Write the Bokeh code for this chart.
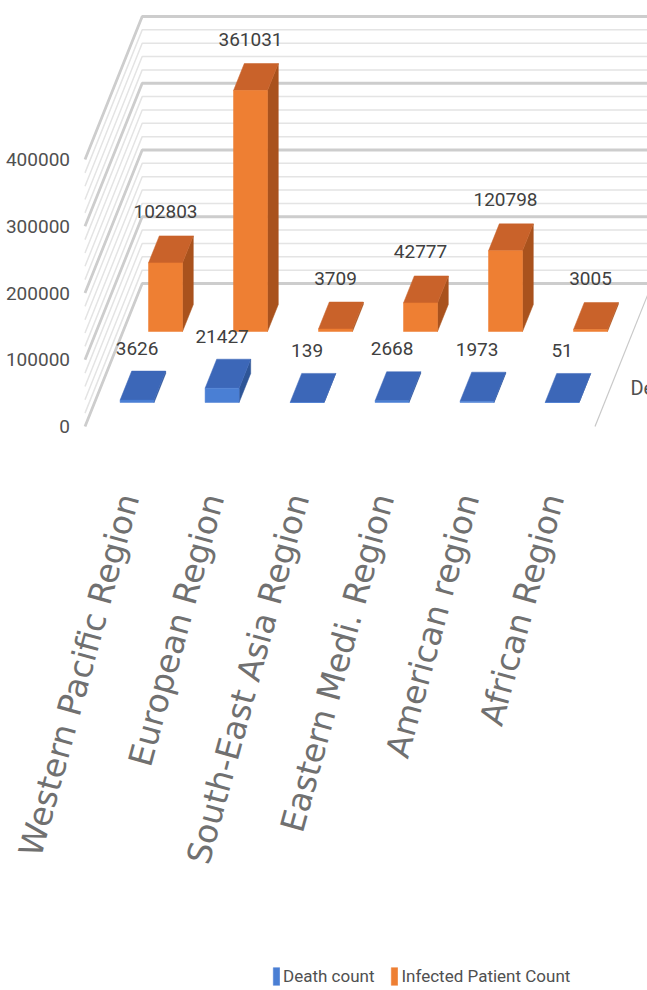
import math
from bokeh.plotting import figure
from bokeh.models import Range1d, Legend, LegendItem, ColumnDataSource
from bokeh.core.properties import value
from bokeh.embed import file_html
from bokeh.resources import INLINE

# ---------------- data ----------------
regions = ["Western Pacific Region", "European Region", "South-East Asia Region",
           "Eastern Medi. Region", "American region", "African Region"]
death_count = [3626, 21427, 139, 2668, 1973, 51]
infected_count = [102803, 361031, 3709, 42777, 120798, 3005]
series_names = ["Death count", "Infected Patient Count"]
y_ticks = [0, 100000, 200000, 300000, 400000]
y_tick_labels = ["0", "100000", "200000", "300000", "400000"]
minor_step = 20000
value_max = 400000

# ---------------- geometry / style ----------------
W, H = 647, 990
CAT_PX = 85.0          # pixels per category
X0_PX = 127.0          # pixel x of first category (front edge)
Y0_PX = 426.0          # pixel y of value 0 at the front of the floor
K = 0.6675 / 1000.0    # pixels per unit of value
SLOPE = 2.5            # depth direction: dy/dx in pixels
DEPTH = 143.0          # depth of the floor (pixels, vertical component)
ROW_DEATH = (24.0, 53.0)
ROW_INF = (95.0, 122.0)
HALF_W = 17.0 / CAT_PX
FLOOR_L, FLOOR_R = -0.5, len(regions) - 0.5

NUMF = "Roboto"
TXT = "#505050"


def dcat(z):
    return z / SLOPE / CAT_PX


def dval(z):
    return z / K


def P(c, z, v):
    return c + dcat(z), v + dval(z)


p = figure(width=W, height=H,
           x_range=Range1d(-X0_PX / CAT_PX, (W - X0_PX) / CAT_PX),
           y_range=Range1d((Y0_PX - H) / K, Y0_PX / K),
           output_backend="svg", toolbar_location=None, min_border=0,
           x_axis_location=None, y_axis_location=None)
p.grid.visible = False
p.outline_line_color = None
p.background_fill_color = "white"

# ---------------- walls ----------------
maj_xs, maj_ys, min_xs, min_ys = [], [], [], []
v = 0
while v <= value_max:
    a = P(FLOOR_L, 0, v)
    b = P(FLOOR_L, DEPTH, v)
    c = P(FLOOR_R, DEPTH, v)
    xs = [a[0], b[0], c[0]]
    ys = [a[1], b[1], c[1]]
    if v % 100000 == 0:
        maj_xs.append(xs); maj_ys.append(ys)
    else:
        min_xs.append(xs); min_ys.append(ys)
    v += minor_step
p.multi_line(min_xs, min_ys, line_color="#e4e4e4", line_width=1.5)
p.multi_line(maj_xs, maj_ys, line_color="#cdcdcd", line_width=2.8)
# right floor edge (series axis)
e0 = P(FLOOR_R, 0, 0)
e1 = P(FLOOR_R, DEPTH, 0)
p.line([e0[0], e1[0]], [e0[1], e1[1]], line_color="#c8c8c8", line_width=1.2)


# ---------------- bars ----------------
def boxes(vals, row):
    z0, z1 = row
    fr = {"xs": [], "ys": []}
    tp = {"xs": [], "ys": []}
    sd = {"xs": [], "ys": []}
    for i, val in enumerate(vals):
        l, r = i - HALF_W, i + HALF_W
        pts = [P(l, z0, 0), P(r, z0, 0), P(r, z0, val), P(l, z0, val)]
        fr["xs"].append([q[0] for q in pts]); fr["ys"].append([q[1] for q in pts])
        pts = [P(l, z0, val), P(r, z0, val), P(r, z1, val), P(l, z1, val)]
        tp["xs"].append([q[0] for q in pts]); tp["ys"].append([q[1] for q in pts])
        pts = [P(r, z0, 0), P(r, z1, 0), P(r, z1, val), P(r, z0, val)]
        sd["xs"].append([q[0] for q in pts]); sd["ys"].append([q[1] for q in pts])
    return fr, tp, sd


inf_f, inf_t, inf_s = boxes(infected_count, ROW_INF)
p.patches(inf_s["xs"], inf_s["ys"], fill_color="#a9521d", line_color="#a9521d", line_width=0.5)
p.patches(inf_t["xs"], inf_t["ys"], fill_color="#c9622a", line_color="#c9622a", line_width=0.5)
inf_front = p.patches(inf_f["xs"], inf_f["ys"], fill_color="#ee7f33", line_color="#ee7f33", line_width=0.5)

dth_f, dth_t, dth_s = boxes(death_count, ROW_DEATH)
p.patches(dth_s["xs"], dth_s["ys"], fill_color="#2e5597", line_color="#2e5597", line_width=0.5)
p.patches(dth_t["xs"], dth_t["ys"], fill_color="#3c67b8", line_color="#3c67b8", line_width=0.5)
dth_front = p.patches(dth_f["xs"], dth_f["ys"], fill_color="#4a7fd4", line_color="#4a7fd4", line_width=0.5)

# ---------------- value labels ----------------
idx = list(range(len(regions)))
inf_lbl = ColumnDataSource(dict(
    x=[i + dcat(ROW_INF[0]) for i in idx],
    y=[val + dval(ROW_INF[1]) + 24 / K for val in infected_count],
    t=[str(val) for val in infected_count]))
p.text("x", "y", "t", source=inf_lbl, text_align="center", text_baseline="middle",
       text_font=value(NUMF), text_font_size="19px", text_color="#404040")
dth_lbl = ColumnDataSource(dict(
    x=[i + dcat(ROW_DEATH[0]) for i in idx],
    y=[val + dval(ROW_DEATH[1]) + 23 / K for val in death_count],
    t=[str(val) for val in death_count]))
p.text("x", "y", "t", source=dth_lbl, text_align="center", text_baseline="middle",
       text_font=value(NUMF), text_font_size="19px", text_color="#404040")

# ---------------- value axis labels ----------------
p.text([FLOOR_L - 15 / CAT_PX] * len(y_ticks), y_ticks, y_tick_labels,
       text_align="right", text_baseline="middle",
       text_font=value(NUMF), text_font_size="19px", text_color=TXT)

# ---------------- category labels ----------------
p.text([i + 1 / CAT_PX for i in idx], [-68 / K] * len(idx), regions,
       angle=math.radians(74.7), text_align="right", text_baseline="middle",
       text_font=value("DejaVu Sans"), text_font_size="33px", text_color="#707070")

# ---------------- series (depth) axis label (clipped at the right edge, as in the source) ----------------
zmid = sum(ROW_DEATH) / 2
p.text([FLOOR_R + dcat(zmid) + 20 / CAT_PX], [dval(zmid)], [series_names[0]],
       text_align="left", text_baseline="middle",
       text_font=value(NUMF), text_font_size="20px", text_color=TXT)

# ---------------- legend ----------------
legend = Legend(items=[LegendItem(label=series_names[0], renderers=[dth_front]),
                       LegendItem(label=series_names[1], renderers=[inf_front])],
                orientation="horizontal", location=(272, 3),
                glyph_width=8, glyph_height=22, label_standoff=3, spacing=16,
                padding=0, margin=0, border_line_color=None, background_fill_alpha=0,
                label_text_font=NUMF, label_text_font_size="17px", label_text_color=TXT)
p.add_layout(legend)

open("out.html", "w").write(file_html(p, INLINE))
